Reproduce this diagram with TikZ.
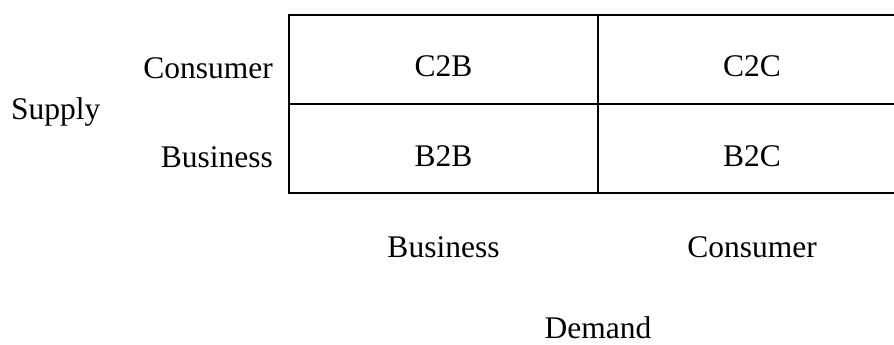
\documentclass[tikz,border=0pt]{standalone}
\usepackage{fontspec}
\setmainfont{Liberation Serif}
\begin{document}
\begin{tikzpicture}[x=1pt,y=-1pt,
  every node/.style={font=\fontsize{31.5}{38}\selectfont, inner sep=0pt},
  gridline/.style={line width=2.2pt, line cap=rect}]
\clip (0,0) rectangle (894,345);
\fill[white] (0,0) rectangle (894,345);
% grid corners
\coordinate (tl) at (289,15);
\coordinate (br) at (910,193);
\coordinate (ml) at (289,104);
\coordinate (mr) at (910,104);
\coordinate (dt) at (598,15);
\coordinate (db) at (598,193);
\draw[gridline] (tl) rectangle (br);
\draw[gridline] (ml) -- (mr);
\draw[gridline] (dt) -- (db);
% cells
\node[anchor=base] (c2b) at (443.5,77) {C2B};
\node[anchor=base] (c2c) at (752,77) {C2C};
\node[anchor=base] (b2b) at (443.5,166) {B2B};
\node[anchor=base] (b2c) at (752,166) {B2C};
% row labels
\node[anchor=base east] (rowc) at (273,78) {Consumer};
\node[anchor=base east] (rowb) at (273,167) {Business};
\node[anchor=base west] (supply) at (11,119) {Supply};
% column labels
\node[anchor=base] (colb) at (443.5,257) {Business};
\node[anchor=base] (colc) at (752,257) {Consumer};
\node[anchor=base] (demand) at (598,338) {Demand};
\end{tikzpicture}
\end{document}
